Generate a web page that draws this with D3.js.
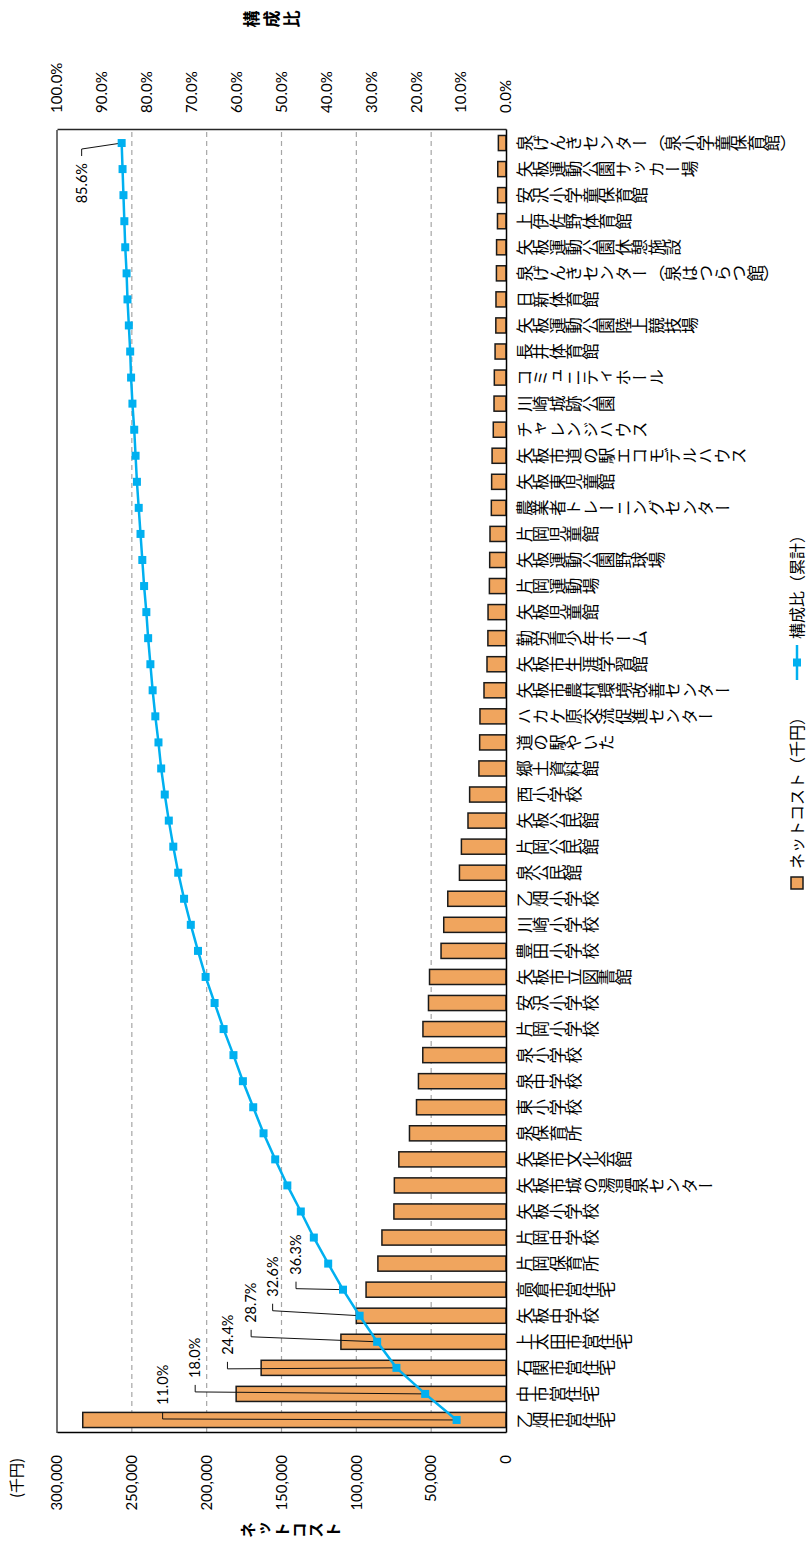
<!DOCTYPE html>
<html>
<head>
<meta charset="utf-8">
<script src="https://cdn.jsdelivr.net/npm/d3@7"></script>
<style>
  body { margin: 0; background: #fff; }
  svg { display: block; }
</style>
</head>
<body>
<div class="canvas"></div>
<script>
// 施設名（ネットコストの大きい順）
const categories = [
  '乙畑市営住宅', '中市営住宅', '石関市営住宅', '上太田市営住宅', '矢板中学校',
  '高倉市営住宅', '片岡保育所', '片岡中学校', '矢板小学校', '矢板市城の湯温泉センター',
  '矢板市文化会館', '泉保育所', '東小学校', '泉中学校', '泉小学校',
  '片岡小学校', '安沢小学校', '矢板市立図書館', '豊田小学校', '川崎小学校',
  '乙畑小学校', '泉公民館', '片岡公民館', '矢板公民館', '西小学校',
  '郷土資料館', '道の駅やいた', 'ハカケ原交流促進センター', '矢板市農村環境改善センター', '矢板市生涯学習館',
  '勤労青少年ホーム', '矢板児童館', '片岡運動場', '矢板運動公園野球場', '片岡児童館',
  '農業者トレーニングセンター', '矢板東児童館', '矢板市道の駅エコモデルハウス', 'チャレンジハウス', '川崎城跡公園',
  'コミュニティホール', '長井体育館', '矢板運動公園陸上競技場', '日新体育館', '泉げんきセンター（泉はつらつ館）',
  '矢板運動公園休憩施設', '上伊佐野体育館', '安沢小学童保育館', '矢板運動公園サッカー場', '泉げんきセンター（泉小学童保育館）'
];

// ネットコスト（千円）
const netCost = [
  282800, 180300, 163600, 110300, 100000,
  93500, 85600, 82900, 74900, 74600,
  71600, 64500, 59800, 58500, 55600,
  55500, 51800, 51100, 43400, 41600,
  38900, 31100, 29800, 25400, 24300,
  18100, 17600, 17400, 14700, 12700,
  12100, 12000, 11100, 10900, 10700,
  9800, 9600, 9300, 8500, 8000,
  7800, 7300, 6800, 6700, 6400,
  6300, 5700, 5600, 5500, 5100
];

// 構成比（累計, %）
const cumShare = [
  11.0, 18.0, 24.4, 28.7, 32.6, 36.3, 39.6, 42.8, 45.7, 48.7,
  51.4, 54.0, 56.3, 58.6, 60.7, 62.9, 64.9, 66.9, 68.6, 70.2,
  71.7, 73.0, 74.1, 75.1, 76.0, 76.8, 77.4, 78.1, 78.7, 79.2,
  79.7, 80.1, 80.6, 81.0, 81.4, 81.8, 82.2, 82.5, 82.8, 83.2,
  83.5, 83.7, 84.0, 84.3, 84.5, 84.8, 85.0, 85.2, 85.4, 85.6
];

const costTicks = [0, 50000, 100000, 150000, 200000, 250000, 300000];
const shareTicks = [0, 10, 20, 30, 40, 50, 60, 70, 80, 90, 100];
const labeledIdx = [0, 1, 2, 3, 4, 5, 49];

// label placement (px from the marker), the last one sits left of its point
const labelPos = [
  { dx: 15, dy: -294, anchor: 'start' },
  { dx: 16, dy: -230, anchor: 'start' },
  { dx: 13, dy: -169, anchor: 'start' },
  { dx: 19, dy: -126, anchor: 'start' },
  { dx: 19, dy: -87, anchor: 'start' },
  { dx: 15, dy: -47, anchor: 'start' },
  { dx: -20, dy: -40, anchor: 'end' }
];

// the chart is laid out landscape and then turned a quarter to the left
const W = 1541, H = 808;
const plot = { left: 108, right: 1411, top: 57, bottom: 506 };
const numFont = 'Lato, "Noto Sans", sans-serif';
const jpFont = '"Noto Sans CJK JP", "Noto Sans", sans-serif';
const barFill = '#F0A55E';
const lineColor = '#00B0F0';

const svg = d3.select('.canvas')
  .append('svg')
  .attr('width', H)
  .attr('height', W);

const chart = svg.append('g')
  .attr('transform', `translate(0, ${W}) rotate(-90)`);

const x = d3.scaleBand()
  .domain(categories)
  .range([plot.left, plot.right])
  .paddingInner(0.42)
  .paddingOuter(0.21);

const yCost = d3.scaleLinear().domain([0, 300000]).range([plot.bottom, plot.top]);
const yShare = d3.scaleLinear().domain([0, 100]).range([plot.bottom, plot.top]);

// gridlines
chart.append('g')
  .selectAll('line')
  .data(costTicks.filter(d => d > 0 && d < 300000))
  .enter().append('line')
    .attr('x1', plot.left).attr('x2', plot.right)
    .attr('y1', d => yCost(d)).attr('y2', d => yCost(d))
    .attr('stroke', '#A6A6A6')
    .attr('stroke-width', 1.2)
    .attr('stroke-dasharray', '5,4');

// bars
chart.append('g')
  .selectAll('rect')
  .data(netCost)
  .enter().append('rect')
    .attr('x', (d, i) => x(categories[i]))
    .attr('width', x.bandwidth())
    .attr('y', d => yCost(d))
    .attr('height', d => plot.bottom - yCost(d))
    .attr('fill', barFill)
    .attr('stroke', '#1a1a1a')
    .attr('stroke-width', 1.5);

// plot border (top)
chart.append('line')
  .attr('x1', plot.left).attr('x2', plot.right)
  .attr('y1', plot.top).attr('y2', plot.top)
  .attr('stroke', '#262626').attr('stroke-width', 1.3);

// axes
const costAxis = chart.append('g')
  .attr('transform', `translate(${plot.left}, 0)`)
  .call(d3.axisLeft(yCost).tickValues(costTicks).tickFormat(d3.format(','))
    .tickSize(0).tickPadding(22));

const shareAxis = chart.append('g')
  .attr('transform', `translate(${plot.right}, 0)`)
  .call(d3.axisRight(yShare).tickValues(shareTicks).tickFormat(d => d3.format('.1f')(d) + '%')
    .tickSize(0).tickPadding(17));

const catAxis = chart.append('g')
  .attr('transform', `translate(0, ${plot.bottom})`)
  .call(d3.axisBottom(x).tickSize(0).tickSizeOuter(0));

[costAxis, shareAxis].forEach(g => {
  g.selectAll('text')
    .attr('font-family', numFont)
    .attr('font-size', 15)
    .attr('fill', '#000');
});
costAxis.select('.domain').attr('stroke', '#000').attr('stroke-width', 1.5);
shareAxis.select('.domain').attr('stroke', '#262626').attr('stroke-width', 1.3);
catAxis.select('.domain').attr('stroke', '#000').attr('stroke-width', 1.5);

catAxis.selectAll('text')
  .attr('y', 10)
  .attr('dy', null)
  .attr('text-anchor', 'start')
  .style('writing-mode', 'vertical-rl')
  .attr('font-family', jpFont)
  .attr('font-size', 16.5)
  .attr('fill', '#000');

// cumulative line
const pts = cumShare.map((p, i) => [x(categories[i]) + x.bandwidth() / 2, yShare(p)]);

chart.append('path')
  .datum(pts)
  .attr('d', d3.line())
  .attr('fill', 'none')
  .attr('stroke', lineColor)
  .attr('stroke-width', 2.5);

// leader lines + labels
labeledIdx.forEach((i, k) => {
  const [px, py] = pts[i];
  const o = labelPos[k];
  const edge = px + o.dx;
  const cy = py + o.dy;
  const side = o.anchor === 'start' ? -1 : 1;

  chart.append('path')
    .attr('d', d3.line()([[px, py], [edge + side * 14, cy], [edge + side * 7, cy]]))
    .attr('fill', 'none')
    .attr('stroke', '#111')
    .attr('stroke-width', 1);

  chart.append('text')
    .attr('x', edge)
    .attr('y', cy)
    .attr('dy', '0.35em')
    .attr('text-anchor', o.anchor)
    .attr('font-family', numFont)
    .attr('font-size', 14.5)
    .text(d3.format('.1f')(cumShare[i]) + '%');
});

// markers
chart.append('g')
  .selectAll('rect')
  .data(pts)
  .enter().append('rect')
    .attr('x', d => d[0] - 4)
    .attr('y', d => d[1] - 4)
    .attr('width', 8)
    .attr('height', 8)
    .attr('fill', lineColor);

// axis titles
chart.append('text')
  .attr('x', 11).attr('y', 240)
  .style('writing-mode', 'vertical-rl')
  .attr('font-family', jpFont)
  .attr('font-weight', 'bold')
  .attr('font-size', 16)
  .attr('letter-spacing', 1)
  .text('ネットコスト');

chart.append('text')
  .attr('x', 1522).attr('y', 243)
  .style('writing-mode', 'vertical-rl')
  .attr('font-family', jpFont)
  .attr('font-weight', 'bold')
  .attr('font-size', 17)
  .attr('letter-spacing', 3)
  .text('構成比');

chart.append('text')
  .attr('x', 43).attr('y', 17)
  .attr('dy', '0.35em')
  .attr('font-family', jpFont)
  .attr('font-size', 15)
  .text('(千円)');

// legend
const legend = chart.append('g').attr('transform', 'translate(0, 797)');

legend.append('rect')
  .attr('x', 652).attr('y', -6)
  .attr('width', 12).attr('height', 12)
  .attr('fill', barFill)
  .attr('stroke', '#1a1a1a')
  .attr('stroke-width', 1.5);

legend.append('text')
  .attr('x', 672).attr('y', 0).attr('dy', '0.35em')
  .attr('font-family', jpFont)
  .attr('font-size', 16)
  .text('ネットコスト（千円）');

legend.append('line')
  .attr('x1', 861).attr('x2', 896)
  .attr('y1', 0).attr('y2', 0)
  .attr('stroke', lineColor)
  .attr('stroke-width', 2.5);

legend.append('rect')
  .attr('x', 874.5).attr('y', -4)
  .attr('width', 8).attr('height', 8)
  .attr('fill', lineColor);

legend.append('text')
  .attr('x', 902).attr('y', 0).attr('dy', '0.35em')
  .attr('font-family', jpFont)
  .attr('font-size', 16)
  .text('構成比（累計）');
</script>
</body>
</html>
